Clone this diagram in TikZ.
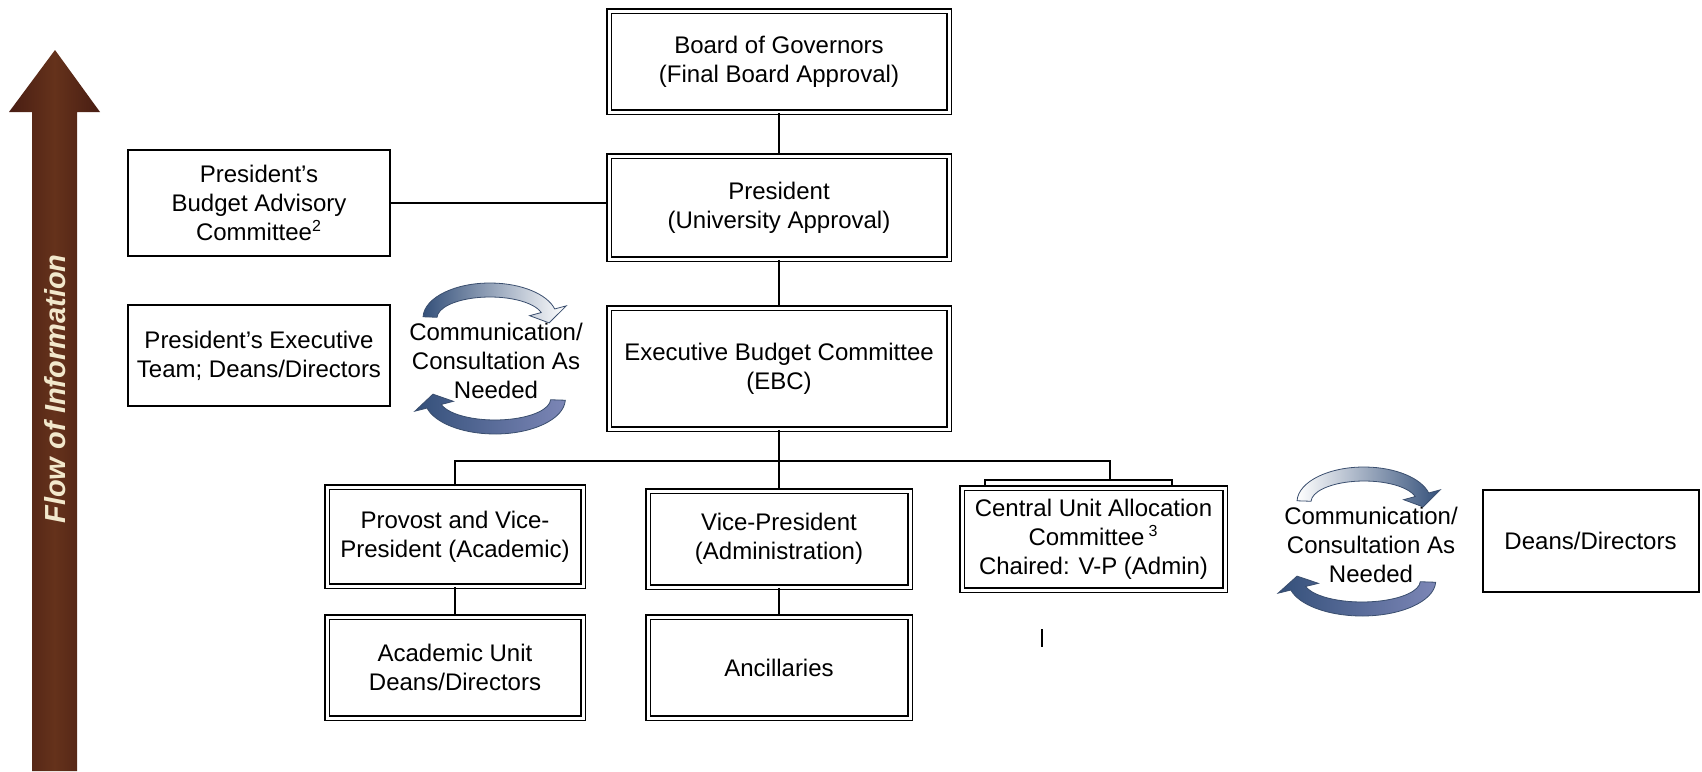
\documentclass[tikz,border=0pt]{standalone}
\usepackage{fontspec}
\setmainfont{Liberation Sans}
\usepackage{tikz}

\definecolor{flowbrown}{HTML}{481D13}
\definecolor{flowmid}{HTML}{65321B}
\definecolor{flowtext}{HTML}{F2E8CC}
\definecolor{arrowdeep}{HTML}{34507A}
\definecolor{arrowlight}{HTML}{7C86B6}
\definecolor{arrowrim}{HTML}{3A4E6E}

% #1 placement, #2 and #3 colours on the left and right of the arc
\newcommand{\commarrow}[3]{%
  \begin{scope}[#1, yscale=-1]
    \shade[left color=#2, right color=#3, draw=arrowrim, line width=0.4pt]
      (178:67 and 35) arc[start angle=178, end angle=15, x radius=67, y radius=35]
      -- (15:79 and 47) -- (-10:60 and 28) -- (15:41 and 9) -- (15:53 and 21)
      arc[start angle=15, end angle=178, x radius=53, y radius=21] -- cycle;
  \end{scope}}

\begin{document}
\begin{tikzpicture}[x=0.5pt, y=-0.5pt,
  every node/.style={align=center, inner sep=0pt, font=\fontsize{12}{14.5}\selectfont},
  box/.style={draw, line width=1pt},
  doublebox/.style={draw, line width=0.85pt, double=white, double distance=1.5pt},
  link/.style={line width=0.9pt}
]
\useasboundingbox (0,0) rectangle (1702,771);

\shade[left color=flowbrown, right color=flowbrown, middle color=flowmid]
  (32,771) -- (32,112) -- (9,112) -- (55,50) -- (100,112) -- (77,112) -- (77,771) -- cycle;
\node[rotate=90, text=flowtext, font=\bfseries\itshape\fontsize{14.5}{14.5}\selectfont] (flow) at (55,389) {Flow of Information};

\node[doublebox, minimum width=170pt, minimum height=50.5pt] (board) at (779,61.5) {Board of Governors\\ (Final Board Approval)};
\node[doublebox, minimum width=170pt, minimum height=51.5pt] (pres) at (779,207.5) {President\\ (University Approval)};
\node[doublebox, minimum width=170pt, minimum height=60.5pt] (ebc) at (779,368.5) {Executive Budget Committee\\(EBC)};
\node[box, minimum width=131pt, minimum height=53pt] (pbac) at (259,203) {President’s\\Budget Advisory\\Committee\textsuperscript{2}};
\node[box, minimum width=131pt, minimum height=50.5pt] (pet) at (259,355.5) {President’s Executive\\Team; Deans/Directors};

\node[doublebox, minimum width=128pt, minimum height=49.5pt] (provost) at (455,536.5) {Provost and Vice-\\President (Academic)};
\node[doublebox, minimum width=131pt, minimum height=48pt] (vp) at (779,539) {Vice-President\\(Administration)};
\node[doublebox, minimum width=131.5pt, minimum height=51pt] (cuac) at (1093.5,539) {Central Unit Allocation\\Committee\,\textsuperscript{3}\\Chaired: V-P (Admin)};
\node[doublebox, minimum width=128pt, minimum height=50.5pt] (academic) at (455,667.5) {Academic Unit\\Deans/Directors};
\node[doublebox, minimum width=131pt, minimum height=50.5pt] (ancillaries) at (779,667.5) {Ancillaries};
\node[box, minimum width=108pt, minimum height=51pt] (deans) at (1590.5,540.5) {Deans/Directors};

\node (commleft) at (496,361) {Communication/\\Consultation As\\Needed};
\node (commright) at (1371,545) {Communication/\\Consultation As\\Needed};
\commarrow{shift={(495,399)}, rotate=180, xscale=1.05}{arrowdeep}{arrowlight}
\commarrow{shift={(490,318)}}{arrowdeep}{white}
\commarrow{shift={(1364,502)}}{white}{arrowdeep}
\commarrow{shift={(1362,581)}, rotate=180, xscale=1.1}{arrowdeep}{arrowlight}

\coordinate (bus) at (779,461);
\coordinate (tab) at (1110,480);
\draw[link] (board) -- (pres);
\draw[link] (pres) -- (ebc);
\draw[link] (pbac.east) -- (pbac.east -| pres.west);
\draw[link] (ebc) -- (vp);
\draw[link] (provost.north) |- (bus) -| (tab);
\draw[link] (985,486) |- (tab) -| (1172,486);
\draw[link] (provost) -- (academic);
\draw[link] (vp) -- (ancillaries);
\draw[link] (1042,629) -- (1042,647);
\end{tikzpicture}
\end{document}
